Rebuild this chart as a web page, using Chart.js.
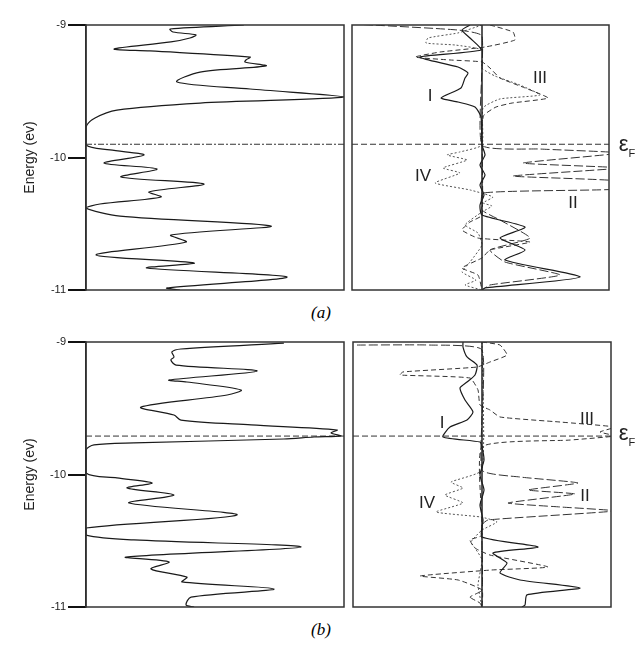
<!DOCTYPE html>
<html>
<head>
<meta charset="utf-8">
<script src="https://cdn.jsdelivr.net/npm/chart.js@4.4.0/dist/chart.umd.min.js"></script>
<style>
body{margin:0;background:#fff;width:640px;height:648px;position:relative;overflow:hidden;font-family:Arial,"Liberation Sans",sans-serif;}
canvas{position:absolute;}
.lab{position:absolute;font-size:17px;color:#222;line-height:1;transform:translate(-50%,-50%);}
.ef{position:absolute;font-size:22px;color:#222;line-height:1;transform:translate(-50%,-50%);}
.ef sub{font-size:11px;}
.cap{position:absolute;font-family:"Liberation Serif","Times New Roman",serif;font-style:italic;font-size:17px;transform:translate(-50%,-50%);}
</style>
</head>
<body>
<canvas id="aLeft" width="348" height="285" style="left:0;top:15px"></canvas>
<canvas id="aRight" width="270" height="285" style="left:348px;top:15px"></canvas>
<canvas id="bLeft" width="348" height="285" style="left:0;top:332px"></canvas>
<canvas id="bRight" width="270" height="285" style="left:348px;top:332px"></canvas>

<div class="lab" style="left:430px;top:95px">I</div>
<div class="lab" style="left:540px;top:77px">III</div>
<div class="lab" style="left:423px;top:175px">IV</div>
<div class="lab" style="left:573px;top:202px">II</div>
<div class="ef" style="left:627px;top:146px">ε<sub>F</sub></div>
<div class="cap" style="left:321px;top:313px">(a)</div>

<div class="lab" style="left:442px;top:422px">I</div>
<div class="lab" style="left:587px;top:418px">III</div>
<div class="lab" style="left:427px;top:502px">IV</div>
<div class="lab" style="left:585px;top:495px">II</div>
<div class="ef" style="left:627px;top:435px">ε<sub>F</sub></div>
<div class="cap" style="left:321px;top:630px">(b)</div>

<script>
// energy axis
const energyTicks = [-9, -10, -11];
const fermiA = -9.9;
const fermiB = -9.71;

// (a) total DOS
const aTotalDos = [61.2,32.6,33.7,42.6,40.3,32.9,10.9,24.8,63.6,62.0,61.6,69.8,44.2,35.3,63.6,100,44.2,12.0,3.5,0,0,9.3,22.5,7.0,27.5,13.6,45.7,24.4,29.1,5.4,0,13.2,71.7,32.9,38.8,3.9,41.9,23.6,77.9,31.4,36.4];
const aTotalE = [-9.000,-9.030,-9.053,-9.075,-9.098,-9.128,-9.181,-9.196,-9.242,-9.264,-9.279,-9.309,-9.355,-9.430,-9.483,-9.543,-9.589,-9.642,-9.702,-9.770,-9.906,-9.943,-9.981,-10.042,-10.087,-10.147,-10.200,-10.260,-10.298,-10.351,-10.381,-10.442,-10.517,-10.585,-10.638,-10.736,-10.796,-10.834,-10.902,-10.985,-11.0];

// (a) partial DOS
const aIDos = [-12,-20,-12,-1,-62,-24,-14,-17,-21,-41,-24,-7,-1,0,3,-2,3,-2,2,-2,0,43,18,43,23,98,3,0];
const aIE = [-9.000,-9.038,-9.098,-9.189,-9.242,-9.317,-9.362,-9.400,-9.475,-9.551,-9.581,-9.619,-9.694,-9.906,-9.981,-10.057,-10.132,-10.208,-10.283,-10.358,-10.434,-10.525,-10.608,-10.698,-10.774,-10.902,-10.985,-11.0];
const aIIDos = [-130,-24,0,0,58,138,41,138,31,138,138,1,0,18,48,8,23,78,8,0];
const aIIE = [-8.992,-9.038,-9.083,-9.906,-9.936,-9.966,-10.042,-10.079,-10.140,-10.177,-10.238,-10.268,-10.396,-10.472,-10.608,-10.698,-10.789,-10.887,-10.962,-11.0];
const aIIIDos = [8,31,33,3,-42,-67,-32,0,8,18,43,66,30,14,2,0,0,-12,-20,-4,48,8,0,-20,-4,0];
const aIIIE = [-9.000,-9.053,-9.113,-9.166,-9.204,-9.242,-9.264,-9.279,-9.325,-9.400,-9.475,-9.551,-9.589,-9.619,-9.679,-9.755,-10.434,-10.487,-10.547,-10.608,-10.638,-10.698,-10.758,-10.834,-10.887,-11.0];
const aIVDos = [0,-24,-54,-56,-27,0,0,13,38,58,18,1,0,-22,-35,-15,-39,-22,-47,-12,11,1,10,0,-17,-4,0,-12,-20,-6,-17,0];
const aIVE = [-9.000,-9.060,-9.098,-9.136,-9.151,-9.189,-9.325,-9.385,-9.453,-9.528,-9.558,-9.626,-9.906,-9.958,-9.981,-10.019,-10.079,-10.117,-10.192,-10.245,-10.298,-10.343,-10.366,-10.411,-10.509,-10.570,-10.660,-10.789,-10.864,-10.925,-10.962,-11.0];

// (b) total DOS
const bTotalDos = [76.7,36.8,33.3,34.1,32.9,34.9,66.3,32.2,39.1,60.1,54.7,21.3,34.1,36.8,64.0,97.3,95.0,98.8,88.4,76.7,18.6,3.1,0,0,12.0,25.6,15.9,34.1,16.7,58.5,0,0,18.6,83.3,15.5,32.2,25.2,39.1,37.2,72.9,40.7,38.8,41.9];
const bTotalE = [-9.008,-9.053,-9.075,-9.113,-9.136,-9.174,-9.219,-9.287,-9.302,-9.362,-9.400,-9.491,-9.551,-9.589,-9.626,-9.664,-9.687,-9.709,-9.717,-9.732,-9.762,-9.777,-9.815,-9.989,-10.026,-10.064,-10.102,-10.155,-10.215,-10.306,-10.404,-10.457,-10.494,-10.547,-10.623,-10.660,-10.713,-10.774,-10.811,-10.864,-10.925,-10.985,-11.0];

// (b) partial DOS
const bIDos = [-19,-19,-15,-5,-7,-15,-22,-17,-9,-15,-32,-39,-2,0,2,-2,2,-2,1,0,56,11,25,18,38,98,45,43,40];
const bIE = [-9.000,-9.038,-9.113,-9.174,-9.249,-9.302,-9.347,-9.438,-9.528,-9.589,-9.642,-9.717,-9.755,-9.792,-9.891,-10.004,-10.117,-10.230,-10.343,-10.472,-10.547,-10.592,-10.668,-10.743,-10.796,-10.857,-10.909,-10.985,-11.0];
const bIIDos = [-125,-52,0,0,38,96,46,93,26,78,133,6,0,0,-12,-2,0];
const bIIE = [-9.023,-9.023,-9.060,-9.966,-10.019,-10.064,-10.117,-10.147,-10.215,-10.245,-10.275,-10.343,-10.381,-10.872,-10.925,-10.970,-11.0];
const bIIIDos = [0,18,25,8,-5,-79,-82,-12,-4,-2,8,18,78,133,118,133,88,0,0,-12,-7,8,66,9,-62,-24,0,0];
const bIIIE = [-9.000,-9.023,-9.098,-9.151,-9.189,-9.226,-9.249,-9.272,-9.362,-9.475,-9.513,-9.566,-9.604,-9.642,-9.679,-9.709,-9.740,-9.792,-10.457,-10.494,-10.555,-10.608,-10.698,-10.721,-10.766,-10.796,-10.872,-11.0];
const bIVDos = [0,0,-31,-19,-37,-19,-46,-1,15,0,-11,-7,0,-4,0];
const bIVE = [-9.000,-9.966,-10.057,-10.102,-10.155,-10.215,-10.283,-10.321,-10.358,-10.419,-10.509,-10.555,-10.645,-10.834,-11.0];

function pts(xs, ys){ return xs.map((x,i)=>({x:x, y:ys[i]})); }

// box round the plot area
const frame = {
  id:'frame',
  afterDatasetsDraw(c){
    const a = c.chartArea, ctx = c.ctx;
    ctx.save();
    ctx.strokeStyle = '#333';
    ctx.lineWidth = 1.5;
    ctx.strokeRect(a.left, a.top, a.right - a.left, a.bottom - a.top);
    ctx.restore();
  }
};

function line(data, dash, color, width, tension){
  return {data:data, showLine:true, pointRadius:0, borderColor:color, borderWidth:width, borderDash:dash, tension:tension, fill:false};
}

function leftChart(id, dos, energy, fermi, fermiDash){
  new Chart(document.getElementById(id), {
    type:'scatter',
    data:{datasets:[
      line(pts(dos, energy), [], '#1a1a1a', 1.2, 0.3),
      line([{x:0,y:fermi},{x:100,y:fermi}], fermiDash, '#333', 1, 0)
    ]},
    options:{
      responsive:false, animation:false,
      layout:{padding:{top:10,bottom:10,right:4,left:0}},
      plugins:{legend:{display:false}, tooltip:{enabled:false}},
      scales:{
        x:{type:'linear', min:0, max:100, display:false},
        y:{type:'linear', min:-11, max:-9,
          afterFit(s){ s.width = 86; },
          afterBuildTicks(s){ s.ticks = energyTicks.map(v=>({value:v})); },
          ticks:{color:'#222', font:{size:11, family:'Arial, "Liberation Sans", sans-serif'}, padding:2},
          grid:{drawOnChartArea:false, tickLength:18, color:'#111', lineWidth:2},
          border:{display:true, color:'#222', width:1.5},
          title:{display:true, text:'Energy (ev)', color:'#222', font:{size:14, family:'Arial, "Liberation Sans", sans-serif'}, padding:{top:22}}
        }
      }
    },
    plugins:[frame]
  });
}

function rightChart(id, xmin, xmax, padL, padR, curves, fermi){
  new Chart(document.getElementById(id), {
    type:'scatter',
    data:{datasets:[
      line([{x:0,y:-9},{x:0,y:-11}], [], '#222', 1.5, 0),
      line([{x:xmin,y:fermi},{x:xmax,y:fermi}], [6,3], '#333', 1, 0),
      line(pts(curves.I[0], curves.I[1]), [], '#1a1a1a', 1.2, 0.2),
      line(pts(curves.II[0], curves.II[1]), [9,3], '#333', 1, 0.15),
      line(pts(curves.III[0], curves.III[1]), [5,3], '#333', 1, 0.15),
      line(pts(curves.IV[0], curves.IV[1]), [2,2], '#555', 1, 0.15)
    ]},
    options:{
      responsive:false, animation:false,
      layout:{padding:{top:10,bottom:10,left:padL,right:padR}},
      plugins:{legend:{display:false}, tooltip:{enabled:false}},
      scales:{
        x:{type:'linear', min:xmin, max:xmax, display:false},
        y:{type:'linear', min:-11, max:-9, display:false}
      }
    },
    plugins:[frame]
  });
}

leftChart('aLeft', aTotalDos, aTotalE, fermiA, [6,2,2,2]);
leftChart('bLeft', bTotalDos, bTotalE, fermiB, [6,3]);
rightChart('aRight', -130, 127, 4, 9,
  {I:[aIDos,aIE], II:[aIIDos,aIIE], III:[aIIIDos,aIIIE], IV:[aIVDos,aIVE]}, fermiA);
rightChart('bRight', -129, 129, 5, 7,
  {I:[bIDos,bIE], II:[bIIDos,bIIE], III:[bIIIDos,bIIIE], IV:[bIVDos,bIVE]}, fermiB);
</script>
</body>
</html>
